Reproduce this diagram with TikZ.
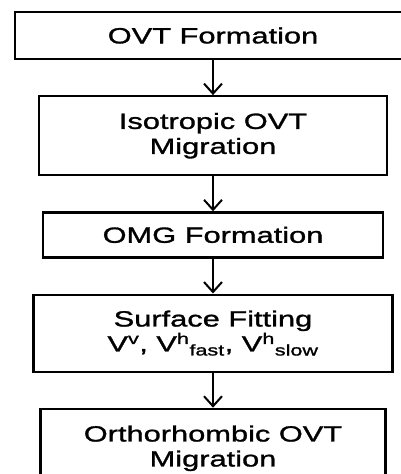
\documentclass[tikz,border=0pt]{standalone}
\usepackage{fontspec}
\setmainfont[FakeStretch=1.40,FakeBold=1.3]{Liberation Sans}
\usetikzlibrary{positioning,arrows.meta}

\begin{document}
\begin{tikzpicture}[x=1pt,y=-1pt,font=\fontsize{22}{25}\selectfont,
  >={Straight Barb[length=10pt,width=18pt]},node distance=35pt,
  stage/.style={draw,line width=2.2pt,align=center,inner sep=0pt}]
  \useasboundingbox (0,0) rectangle (401,474);
  \clip (0,0) rectangle (401,474);
  \node[stage,minimum width=396pt,minimum height=47pt] (ovt) at (213,35.5) {OVT Formation};
  \node[stage,minimum width=348pt,minimum height=79pt,below=of ovt] (iso) {Isotropic OVT\\Migration};
  \node[stage,minimum width=340pt,minimum height=45pt,below=of iso] (omg) {OMG Formation};
  \node[stage,minimum width=359pt,minimum height=77pt,below=of omg] (fit)
    {Surface Fitting\\V\textsuperscript{v}, V\textsuperscript{h}\textsubscript{fast}, V\textsuperscript{h}\textsubscript{slow}};
  \node[stage,minimum width=345pt,minimum height=79pt,below=of fit] (ortho) {Orthorhombic OVT\\Migration};
  \draw[->,line width=2pt] (ovt)--(iso);
  \draw[->,line width=2pt] (iso)--(omg);
  \draw[->,line width=2pt] (omg)--(fit);
  \draw[->,line width=2pt] (fit)--(ortho);
\end{tikzpicture}
\end{document}
